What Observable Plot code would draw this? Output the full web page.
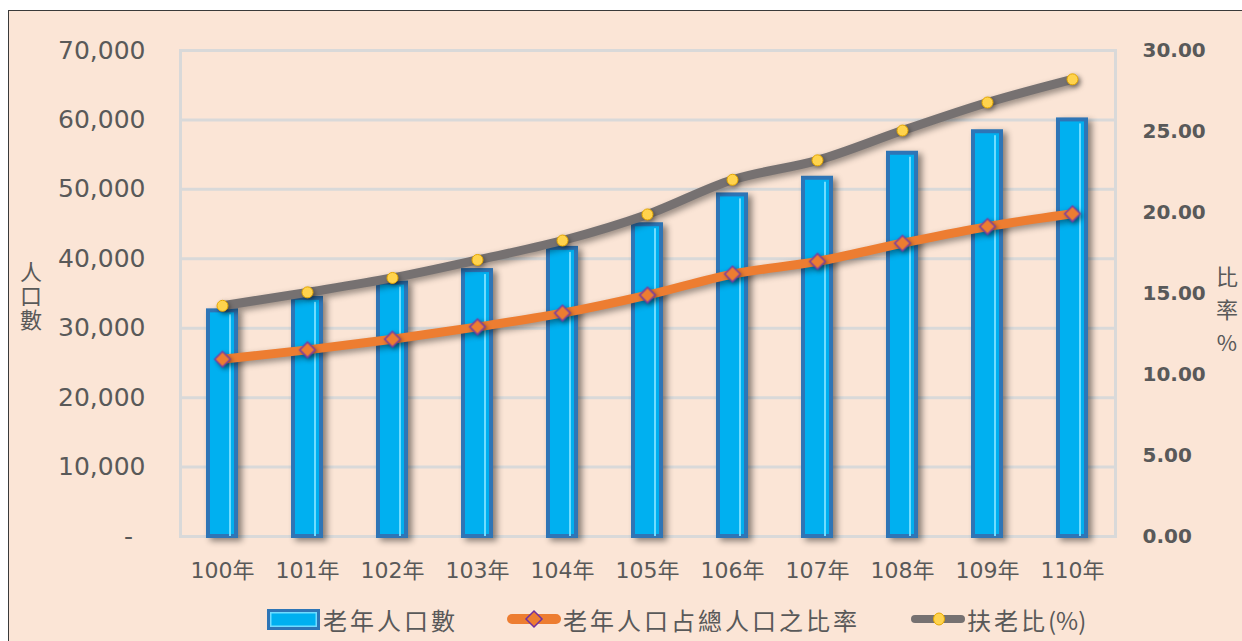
<!DOCTYPE html>
<html><head><meta charset="utf-8">
<script src="https://cdn.jsdelivr.net/npm/d3@7"></script>
<script src="https://cdn.jsdelivr.net/npm/@observablehq/plot@0.6"></script>
<style>
html,body{margin:0;padding:0;background:#fff;overflow:hidden;width:1242px;height:641px;}
#frame{position:absolute;left:8px;top:10px;width:1300px;height:700px;border:1px solid #3a3a3a;background:#FBE5D6;box-sizing:border-box;}
#chart{position:absolute;left:0;top:0;}
.lab{position:absolute;font-family:'Noto Sans CJK TC',sans-serif;font-size:22px;color:#595959;writing-mode:vertical-rl;text-orientation:upright;line-height:26px;}
.leg{position:absolute;top:607px;height:24px;display:flex;align-items:center;font-family:'Noto Sans CJK TC',sans-serif;font-size:24px;letter-spacing:3px;color:#595959;white-space:nowrap;}
.sw1{display:inline-block;width:47px;height:15px;background:#00B0F0;border:3px solid #2E75B6;box-shadow:inset 0 0 0 1.5px #6FDCFF;margin-right:3px;}
.leg svg{margin-right:2px;}
.tight{letter-spacing:0;}
</style>
</head><body>
<div id="frame"><div id="chart"></div></div>
<div class="lab" style="left:18px;top:261px;letter-spacing:2px;">人口數</div>
<div class="lab" style="left:1214px;top:266px;letter-spacing:11px;">比率%</div>
<div class="leg" style="left:267px;"><span class="sw1"></span><span>老年人口數</span></div>
<div class="leg" style="left:507px;"><svg width="54" height="20"><line x1="5" y1="10" x2="49" y2="10" stroke="#ED7D31" stroke-width="10" stroke-linecap="round"/><path d="M27,2 L35,10 L27,18 L19,10 Z" fill="#ED7D31" stroke="#7030A0" stroke-width="1.5"/></svg><span>老年人口占總人口之比率</span></div>
<div class="leg" style="left:911px;"><svg width="54" height="20"><line x1="4" y1="10" x2="50" y2="10" stroke="#767171" stroke-width="8" stroke-linecap="round"/><ellipse cx="28" cy="10" rx="5.5" ry="6" fill="#FFD34D" stroke="#E6A800" stroke-width="1"/></svg><span>扶老比<span class="tight">(%)</span></span></div>
<script>
const years = ["100年","101年","102年","103年","104年","105年","106年","107年","108年","109年","110年"];
const elderly = [32500, 34300, 36500, 38300, 41500, 44900, 49200, 51600, 55200, 58300, 60000];
const elderlyRatio = [10.94, 11.52, 12.18, 12.94, 13.79, 14.90, 16.20, 16.98, 18.10, 19.13, 19.92];
const dependency = [14.24, 15.07, 15.96, 17.07, 18.27, 19.88, 22.02, 23.22, 25.06, 26.79, 28.22];
const leftTicks = [0, 10000, 20000, 30000, 40000, 50000, 60000, 70000];
const rightTicks = [0, 5, 10, 15, 20, 25, 30];

const k = 70000 / 30;
const rows = years.map((y, i) => ({year: y, pop: elderly[i], ratio: elderlyRatio[i] * k, dep: dependency[i] * k}));

const chart = Plot.plot({
  width: 1233, height: 580,
  marginTop: 39, marginBottom: 55, marginLeft: 171, marginRight: 127,
  style: {fontFamily: "'DejaVu Sans','Noto Sans CJK TC',sans-serif", background: "transparent", overflow: "visible"},
  x: {domain: years, paddingInner: 0.67, paddingOuter: 0.3, label: null},
  y: {domain: [0, 70000], label: null},
  marks: [
    Plot.gridY(leftTicks, {stroke: "#D9D9D9", strokeOpacity: 1, strokeWidth: 3}),
    Plot.frame({stroke: "#D9D9D9", strokeWidth: 3}),
    Plot.axisY(leftTicks, {anchor: "left", tickSize: 0, tickPadding: 35, fontSize: 25, color: "#595959",
      tickFormat: d => d === 0 ? "-\u2002" : d3.format(",")(d), label: null}),
    Plot.axisY(rightTicks.map(v => v * k), {anchor: "right", tickSize: 0, tickPadding: 27, fontSize: 20, fontWeight: "bold", color: "#595959",
      tickFormat: d => (d / k).toFixed(2), label: null}),
    Plot.axisX({tickSize: 0, tickPadding: 26, fontSize: 22, color: "#595959", label: null}),
    Plot.barY(rows, {x: "year", y: "pop", fill: "#00B0F0", stroke: "#2E75B6", strokeWidth: 4}),
    Plot.barY(rows, {x: "year", y: "pop", fill: "#6FDCFF", insetLeft: 21, insetRight: 5, insetTop: 4}),
    Plot.lineY(rows, {x: "year", y: "dep", stroke: "#767171", strokeWidth: 9, curve: "monotone-x", strokeLinecap: "round"}),
    Plot.lineY(rows, {x: "year", y: "ratio", stroke: "#ED7D31", strokeWidth: 9, curve: "monotone-x", strokeLinecap: "round"}),
    Plot.dot(rows, {x: "year", y: "dep", r: 5.5, fill: "#FFD34D", stroke: "#E6A800", strokeWidth: 1}),
    Plot.dot(rows, {x: "year", y: "ratio", symbol: "diamond2", r: 7, fill: "#ED7D31", stroke: "#7A3FA0", strokeWidth: 1.5})
  ]
});
chart.querySelectorAll('g[aria-label="bar"]').forEach((g, i) => { if (i === 0) g.style.filter = "drop-shadow(4px 3px 3px rgba(0,0,0,0.45))"; });
chart.querySelectorAll('g[aria-label="line"]').forEach(g => g.style.filter = "drop-shadow(3px 3px 3px rgba(0,0,0,0.4))");
chart.querySelectorAll('g[aria-label="dot"]').forEach(g => g.style.filter = "drop-shadow(2px 2px 2px rgba(0,0,0,0.35))");
document.getElementById("chart").appendChild(chart);
</script>
</body></html>
